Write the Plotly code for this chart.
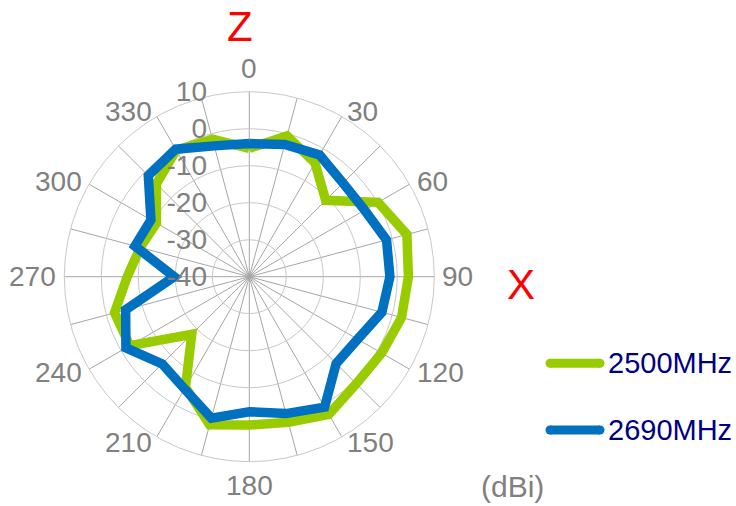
import math
import plotly.graph_objects as go

W, H = 736, 506

angles = list(range(0, 360, 15))
gain_2500 = [-5.3, -0.6, -4.5, -10.8, 0.2, 4.1, 3.0, 2.6, 1.3, 0.9, 3.0, 0.7,
             0.1, 1.4, -5.5, -18.0, -2.7, -2.3, -7.0, -9.5, -11.0, -4.5, -0.5, -1.5]
gain_2690 = [-4.0, -3.0, -2.0, -4.2, -4.0, -1.6, -2.0, -2.9, -6.2, -6.8, 0.7, -1.7,
             -3.5, -0.4, -5.0, -6.7, -1.5, -5.4, -19.7, -8.0, -9.3, -1.4, -0.2, -3.4]
series_names = ["2500MHz", "2690MHz"]
series_colors = ["#99CC00", "#0070C0"]
angle_grid_vals = list(range(0, 360, 15))
angle_label_vals = list(range(0, 360, 30))
angle_label_text = [str(a) for a in angle_label_vals]
radial_tick_vals = [-40, -30, -20, -10, 0, 10]
radial_tick_text = ["-40", "-30", "-20", "-10", "0", "10"]

FONT = "Liberation Sans, Arial, sans-serif"
GRAY = "#808080"

fig = go.Figure()
for name, vals, color in zip(series_names, [gain_2500, gain_2690], series_colors):
    fig.add_trace(go.Scatterpolar(
        r=vals + [vals[0]], theta=angles + [angles[0]],
        mode="lines", name=name, showlegend=False,
        line=dict(color=color, width=9.5),
    ))

cx, cy, R = 249.3, 276.7, 185.0
LABEL_R = 191.0  # pixel radius of the anchor point of each angle label


def px(x):
    return x / W


def py(y):
    return 1 - y / H


fig.update_layout(
    width=W, height=H,
    margin=dict(l=0, r=0, t=0, b=0),
    paper_bgcolor="white",
    font=dict(family=FONT, color=GRAY, size=27),
    polar=dict(
        domain=dict(x=[px(cx - R), px(cx + R)], y=[py(cy + R), py(cy - R)]),
        gridshape="linear",
        bgcolor="white",
        angularaxis=dict(
            rotation=90, direction="clockwise",
            tickmode="array", tickvals=angle_grid_vals,
            showticklabels=False,
            gridcolor="#a6a6a6", gridwidth=1,
            showline=True, linecolor="#c8c8c8", linewidth=1,
            ticks="",
        ),
        radialaxis=dict(
            range=[-40, 10], tickmode="array", tickvals=radial_tick_vals,
            ticktext=radial_tick_text,
            angle=90, side="counterclockwise", tickangle=90,
            showline=False, gridcolor="#c8c8c8", gridwidth=1,
            ticks="outside", ticklen=32, tickcolor="rgba(0,0,0,0)",
            tickfont=dict(size=28, color=GRAY, family=FONT),
        ),
    ),
)

# angle labels around the outer ring (clockwise from top), anchored toward the ring
for a, txt in zip(angle_label_vals, angle_label_text):
    t = math.radians(a)
    s, c = math.sin(t), math.cos(t)
    xa = "left" if s > 0.01 else ("right" if s < -0.01 else "center")
    if abs(s) <= 0.01:
        ya = "bottom" if c > 0 else "top"
    else:
        ya = "middle"
    fig.add_annotation(x=px(cx + LABEL_R * s), y=py(cy - LABEL_R * c),
                       xref="paper", yref="paper", text=txt,
                       xanchor=xa, yanchor=ya, showarrow=False,
                       font=dict(size=28, color=GRAY, family=FONT))

# axis letters and unit
fig.add_annotation(x=px(240), y=py(26), xref="paper", yref="paper", text="Z",
                   xanchor="center", yanchor="middle", showarrow=False,
                   font=dict(size=42, color="#FF0000", family=FONT))
fig.add_annotation(x=px(521), y=py(284), xref="paper", yref="paper", text="X",
                   xanchor="center", yanchor="middle", showarrow=False,
                   font=dict(size=42, color="#FF0000", family=FONT))
fig.add_annotation(x=px(512), y=py(486), xref="paper", yref="paper", text="(dBi)",
                   xanchor="center", yanchor="middle", showarrow=False,
                   font=dict(size=30, color=GRAY, family=FONT))

# manual legend
leg_y = [363.3, 430.0]
for name, color, yy in zip(series_names, series_colors, leg_y):
    fig.add_shape(type="line", xref="paper", yref="paper",
                  x0=px(550), x1=px(600), y0=py(yy), y1=py(yy),
                  line=dict(color=color, width=9))
    for xe in (550, 600):
        fig.add_shape(type="circle", xref="paper", yref="paper",
                      x0=px(xe - 4.5), x1=px(xe + 4.5), y0=py(yy + 4.5), y1=py(yy - 4.5),
                      line=dict(width=0), fillcolor=color)
    fig.add_annotation(x=px(606), y=py(yy), xref="paper", yref="paper", text=name,
                       xanchor="left", yanchor="middle", showarrow=False,
                       font=dict(size=29, color="#000080", family=FONT))

fig.write_html("out.html", config={"displayModeBar": False},
               post_script="document.body.style.margin='0';")
